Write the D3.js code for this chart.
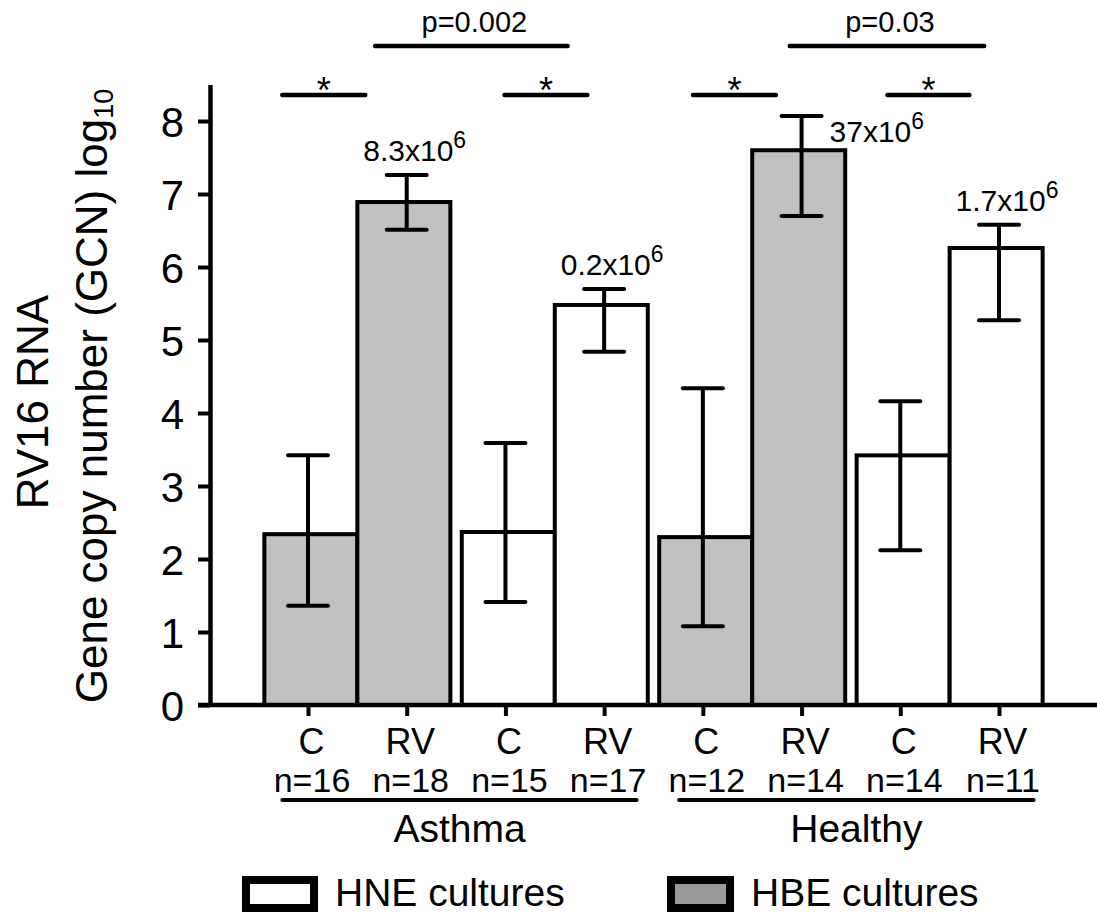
<!DOCTYPE html>
<html>
<head>
<meta charset="utf-8">
<script src="https://cdn.jsdelivr.net/npm/d3@7/dist/d3.min.js"></script>
<style>
  body { margin: 0; background: #fff; }
  text { font-family: "Liberation Sans", Arial, sans-serif; fill: #000; }
</style>
</head>
<body>
<div id="chart"></div>
<script>
// data
var treatments = ["C", "RV", "C", "RV", "C", "RV", "C", "RV"];
var nLabels = ["n=16", "n=18", "n=15", "n=17", "n=12", "n=14", "n=14", "n=11"];
var cultures = ["HBE", "HBE", "HNE", "HNE", "HBE", "HBE", "HNE", "HNE"];
var means = [2.34, 6.89, 2.37, 5.48, 2.30, 7.60, 3.42, 6.26];
var errLow = [1.36, 6.51, 1.41, 4.84, 1.08, 6.70, 2.12, 5.27];
var errHigh = [3.42, 7.26, 3.59, 5.70, 4.34, 8.07, 4.16, 6.58];
var yTicks = [0, 1, 2, 3, 4, 5, 6, 7, 8];

var valueIdx = [1, 3, 5, 7];
var valueMant = ["8.3", "0.2", "37", "1.7"];
var valueExp = "6";

var groups = ["Asthma", "Healthy"];
var groupSpan = [[-0.26, 3.33], [3.76, 7.35]];

var starSpan = [[-0.26, 0.58], [1.99, 2.83], [3.90, 4.74], [5.87, 6.70]];
var pSpan = [[0.68, 2.63], [4.88, 6.85]];
var pLabels = ["p=0.002", "p=0.03"];

var legendLabels = ["HNE cultures", "HBE cultures"];
var legendFill = ["#ffffff", "#999999"];

// 画布
var width = 1097, height = 915;
var svg = d3.select("#chart")
	.append("svg")
	.attr("width", width)
	.attr("height", height);

var y = d3.scaleLinear().domain([0, 8.5]).range([705, 84.5]);
var x = d3.scaleLinear().domain([0, 7]).range([308, 999]);
var barW = 93;

function barLeft(i) {
	var first = i - i % 2;
	var mid = (x(first) + x(first + 1)) / 2;
	return i % 2 === 0 ? mid - barW : mid;
}

// bars
svg.selectAll("rect.bar")
	.data(means)
	.enter()
	.append("rect")
	.attr("class", "bar")
	.attr("x", function(d, i) { return barLeft(i); })
	.attr("y", function(d) { return y(d); })
	.attr("width", barW)
	.attr("height", function(d) { return y(0) - y(d); })
	.attr("fill", function(d, i) { return cultures[i] === "HBE" ? "#c0c0c0" : "#ffffff"; })
	.attr("stroke", "#000")
	.attr("stroke-width", 4);

// y axis
var yAxis = svg.append("g")
	.attr("transform", "translate(210,0)")
	.call(d3.axisLeft(y).tickValues(yTicks).tickSize(12).tickSizeOuter(0).tickPadding(14));
yAxis.select(".domain").attr("stroke-width", 4.5);
yAxis.selectAll(".tick line").attr("stroke-width", 4);
yAxis.selectAll(".tick text")
	.attr("font-size", 42)
	.attr("font-family", "Liberation Sans, Arial, sans-serif")
	.attr("dy", "0.36em");

// x axis
svg.append("line")
	.attr("x1", 198).attr("x2", width)
	.attr("y1", y(0)).attr("y2", y(0))
	.attr("stroke", "#000")
	.attr("stroke-width", 4.5);

var xAxis = svg.append("g")
	.attr("transform", "translate(0," + y(0) + ")")
	.call(d3.axisBottom(x).tickValues(d3.range(treatments.length)).tickSize(11)
		.tickFormat(function(i) { return treatments[i]; }));
xAxis.select(".domain").remove();
xAxis.selectAll(".tick line").attr("stroke-width", 4);
xAxis.selectAll(".tick text")
	.attr("font-size", 36)
	.attr("font-family", "Liberation Sans, Arial, sans-serif")
	.attr("y", 49)
	.attr("dy", 0)
	.attr("dx", 3);

svg.selectAll("text.nlab")
	.data(nLabels)
	.enter()
	.append("text")
	.attr("class", "nlab")
	.attr("x", function(d, i) { return x(i) + 4; })
	.attr("y", 792)
	.attr("text-anchor", "middle")
	.attr("font-size", 34)
	.text(function(d) { return d; });

// group underlines
groups.forEach(function(g, k) {
	var a = x(groupSpan[k][0]), b = x(groupSpan[k][1]);
	svg.append("line")
		.attr("x1", a).attr("x2", b)
		.attr("y1", 800).attr("y2", 800)
		.attr("stroke", "#000")
		.attr("stroke-width", 4)
		.attr("stroke-linecap", "round");
	svg.append("text")
		.attr("x", (a + b) / 2)
		.attr("y", 842)
		.attr("text-anchor", "middle")
		.attr("font-size", 39)
		.text(g);
});

// error bars
var err = svg.selectAll("g.err")
	.data(means)
	.enter()
	.append("g")
	.attr("class", "err")
	.attr("stroke", "#000")
	.attr("stroke-width", 4);
err.append("line")
	.attr("x1", function(d, i) { return x(i); })
	.attr("x2", function(d, i) { return x(i); })
	.attr("y1", function(d, i) { return y(errLow[i]); })
	.attr("y2", function(d, i) { return y(errHigh[i]); });
[errLow, errHigh].forEach(function(arr) {
	err.append("line")
		.attr("x1", function(d, i) { return x(i) - 20; })
		.attr("x2", function(d, i) { return x(i) + 20; })
		.attr("y1", function(d, i) { return y(arr[i]); })
		.attr("y2", function(d, i) { return y(arr[i]); })
		.attr("stroke-linecap", "round");
});

// value labels
valueIdx.forEach(function(i, k) {
	var right = errHigh[i] > 7.9;
	var t = svg.append("text")
		.attr("x", right ? x(i) + 28 : x(i) + 8)
		.attr("y", right ? y(errHigh[i]) + 26 : y(errHigh[i]) - 14)
		.attr("text-anchor", right ? "start" : "middle")
		.attr("font-size", 30);
	t.append("tspan").text(valueMant[k] + "x10");
	t.append("tspan").attr("font-size", 23).attr("dy", -13).text(valueExp);
});

// significance brackets
starSpan.forEach(function(s) {
	var a = x(s[0]), b = x(s[1]);
	svg.append("line")
		.attr("x1", a).attr("x2", b)
		.attr("y1", 95).attr("y2", 95)
		.attr("stroke", "#000")
		.attr("stroke-width", 4.5)
		.attr("stroke-linecap", "round");
	svg.append("text")
		.attr("x", (a + b) / 2)
		.attr("y", 103)
		.attr("text-anchor", "middle")
		.attr("font-size", 36)
		.text("*");
});
pSpan.forEach(function(s, k) {
	var a = x(s[0]), b = x(s[1]);
	svg.append("line")
		.attr("x1", a).attr("x2", b)
		.attr("y1", 46).attr("y2", 46)
		.attr("stroke", "#000")
		.attr("stroke-width", 4.5)
		.attr("stroke-linecap", "round");
	svg.append("text")
		.attr("x", (a + b) / 2 + 3)
		.attr("y", 32)
		.attr("text-anchor", "middle")
		.attr("font-size", 29)
		.text(pLabels[k]);
});

// y title
svg.append("text")
	.attr("transform", "translate(48,402) rotate(-90)")
	.attr("text-anchor", "middle")
	.attr("font-size", 44)
	.text("RV16 RNA");
var t2 = svg.append("text")
	.attr("transform", "translate(107,396) rotate(-90)")
	.attr("text-anchor", "middle")
	.attr("font-size", 44);
t2.append("tspan").text("Gene copy number (GCN) log");
t2.append("tspan").attr("font-size", 27).attr("dy", 6).text("10");

// legend
var legX = [242, 667], legW = [76, 67];
legendLabels.forEach(function(l, k) {
	svg.append("rect")
		.attr("x", legX[k] + 4)
		.attr("y", 880)
		.attr("width", legW[k] - 8)
		.attr("height", 28)
		.attr("fill", legendFill[k])
		.attr("stroke", "#000")
		.attr("stroke-width", 8);
	svg.append("text")
		.attr("x", legX[k] + legW[k] + 17)
		.attr("y", 906)
		.attr("font-size", 39)
		.text(l);
});
</script>
</body>
</html>
